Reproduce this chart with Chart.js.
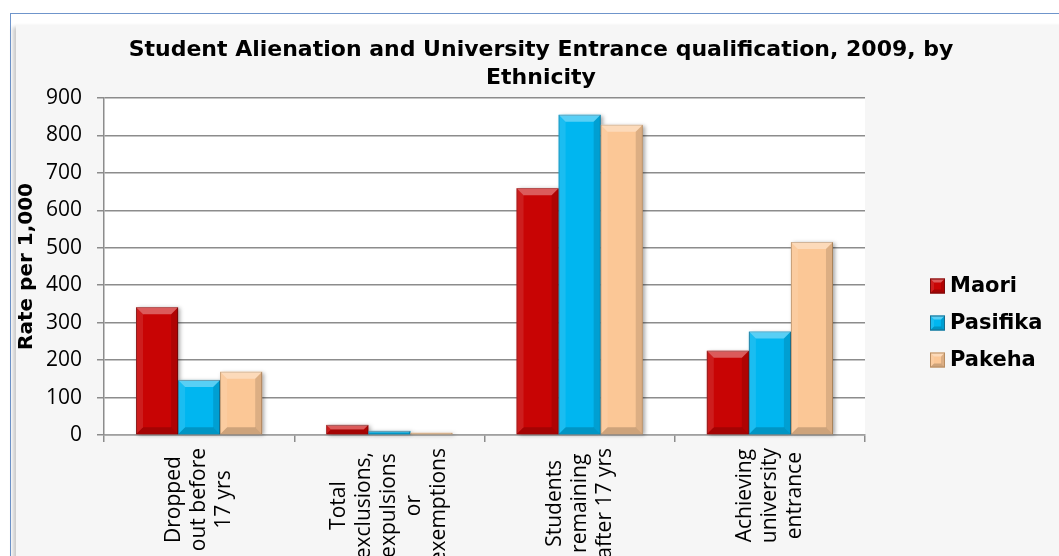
<!DOCTYPE html>
<html>
<head>
<meta charset="utf-8">
<script src="https://cdn.jsdelivr.net/npm/chart.js@4.4.1/dist/chart.umd.min.js"></script>
<style>
  html, body { margin: 0; padding: 0; background: #fff; overflow: hidden; width: 1059px; height: 556px; }
  #frame { position: absolute; left: 10px; top: 13px; width: 1100px; height: 600px; border: 1.5px solid #6f95cb; }
  #panel { position: absolute; left: 16px; top: 25px; width: 1066px; height: 600px; background: #f6f6f6; box-shadow: -3px 2px 4px rgba(0,0,0,0.22); }
  #chart { position: absolute; left: 0; top: 0; }
</style>
</head>
<body>
<div id="frame"></div>
<div id="panel"></div>
<canvas id="chart" width="1082" height="556"></canvas>
<script>
// categories, each split into the lines shown under the axis
const categories = [
    ['Dropped', 'out before', '17 yrs'],
    ['Total', 'exclusions,', 'expulsions', 'or', 'exemptions'],
    ['Students', 'remaining', 'after 17 yrs'],
    ['Achieving', 'university', 'entrance']
];
const seriesNames = ['Maori', 'Pasifika', 'Pakeha'];
const maori = [341, 27, 659, 225];
const pasifika = [147, 11, 855, 276];
const pakeha = [169, 6, 828, 515];
const yTicks = [0, 100, 200, 300, 400, 500, 600, 700, 800, 900];

const fills = ['#c80404', '#00b6f0', '#fbc796'];
const edges = ['#7a0a0a', '#1b6d8e', '#b88d62'];

function quad(ctx, pts, color) {
    ctx.beginPath();
    ctx.moveTo(pts[0][0], pts[0][1]);
    for (let i = 1; i < pts.length; i++) ctx.lineTo(pts[i][0], pts[i][1]);
    ctx.closePath();
    ctx.fillStyle = color;
    ctx.fill();
}

// light top / dark bottom facets to give the bars a raised look
function bevel(ctx, l, t, r, b, s) {
    s = Math.min(s, (b - t) / 2, (r - l) / 2);
    if (s <= 0) return;
    quad(ctx, [[l, t], [r, t], [r - s, t + s], [l + s, t + s]], 'rgba(255,255,255,0.35)');
    quad(ctx, [[l, t], [l + s, t + s], [l + s, b - s], [l, b]], 'rgba(255,255,255,0.10)');
    quad(ctx, [[r, t], [r, b], [r - s, b - s], [r - s, t + s]], 'rgba(0,0,0,0.12)');
    quad(ctx, [[l, b], [l + s, b - s], [r - s, b - s], [r, b]], 'rgba(0,0,0,0.18)');
}

const barLook = {
    id: 'barLook',
    beforeDraw(chart) {
        const { ctx, chartArea: a } = chart;
        ctx.save();
        ctx.fillStyle = '#ffffff';
        ctx.fillRect(a.left, a.top, a.right - a.left, a.bottom - a.top);
        ctx.restore();
    },
    beforeDatasetsDraw(chart) {
        const ctx = chart.ctx;
        ctx.save();
        chart.data.datasets.forEach((ds, i) => {
            chart.getDatasetMeta(i).data.forEach(bar => {
                const p = bar.getProps(['x', 'y', 'base', 'width'], true);
                ctx.shadowColor = 'rgba(0,0,0,0.35)';
                ctx.shadowBlur = 4;
                ctx.shadowOffsetX = 2;
                ctx.shadowOffsetY = 1;
                ctx.fillStyle = fills[i];
                ctx.fillRect(p.x - p.width / 2, p.y, p.width, p.base - p.y);
            });
        });
        ctx.restore();
    },
    afterDatasetsDraw(chart) {
        const ctx = chart.ctx;
        ctx.save();
        chart.data.datasets.forEach((ds, i) => {
            chart.getDatasetMeta(i).data.forEach(bar => {
                const p = bar.getProps(['x', 'y', 'base', 'width'], true);
                bevel(ctx, p.x - p.width / 2, p.y, p.x + p.width / 2, p.base, 7);
            });
        });
        ctx.restore();
    },
    afterDraw(chart) {
        const ctx = chart.ctx;
        const xScale = chart.scales.x;
        ctx.save();
        // rotated, centred category labels
        ctx.font = '21px "Open Sans"';
        ctx.fillStyle = '#000';
        ctx.textAlign = 'center';
        ctx.textBaseline = 'middle';
        const top = xScale.top + 13;
        categories.forEach((lines, i) => {
            const cx = xScale.getPixelForValue(i);
            const maxW = Math.max(...lines.map(s => ctx.measureText(s).width));
            const cy = top + maxW / 2;
            lines.forEach((s, j) => {
                ctx.save();
                ctx.translate(cx + (j - (lines.length - 1) / 2) * 25, cy);
                ctx.rotate(-Math.PI / 2);
                ctx.fillText(s, 0, 0);
                ctx.restore();
            });
        });
        // legend on the right
        ctx.font = 'bold 21px "DejaVu Sans"';
        ctx.textAlign = 'left';
        chart.data.datasets.forEach((ds, i) => {
            const y = 286 + i * 37;
            ctx.fillStyle = fills[i];
            ctx.fillRect(930, y - 7.5, 15, 15);
            bevel(ctx, 930, y - 7.5, 945, y + 7.5, 4);
            ctx.strokeStyle = edges[i];
            ctx.lineWidth = 1;
            ctx.strokeRect(930.5, y - 7, 14, 14);
            ctx.fillStyle = '#000';
            ctx.fillText(ds.label, 950, y + 1);
        });
        ctx.restore();
    }
};

new Chart(document.getElementById('chart'), {
    type: 'bar',
    data: {
        labels: categories.map(c => c.join(' ')),
        datasets: [maori, pasifika, pakeha].map((vals, i) => ({
            label: seriesNames[i],
            data: vals,
            backgroundColor: fills[i],
            borderColor: edges[i],
            borderWidth: 1,
            categoryPercentage: 0.663,
            barPercentage: 1
        }))
    },
    options: {
        responsive: false,
        animation: false,
        layout: { padding: 0 },
        plugins: {
            legend: { display: false },
            tooltip: { enabled: false },
            title: {
                display: true,
                text: ['Student Alienation and University Entrance qualification, 2009, by', 'Ethnicity'],
                color: '#000',
                font: { family: '"DejaVu Sans"', size: 22, weight: 'bold', lineHeight: 1.27 },
                padding: { top: 36, bottom: 6 }
            }
        },
        scales: {
            x: {
                grid: { display: true, drawOnChartArea: false, drawTicks: true, tickLength: 7, color: '#8c8c8c', lineWidth: 1.5 },
                border: { color: '#a0a0a0', width: 1.5 },
                ticks: { display: false },
                afterFit(scale) { scale.height = 121; }
            },
            y: {
                min: 0,
                max: 900,
                afterBuildTicks(scale) { scale.ticks = yTicks.map(v => ({ value: v })); },
                grid: { color: '#8c8c8c', lineWidth: 1.5, tickLength: 7 },
                border: { color: '#8c8c8c', width: 1.5 },
                ticks: { color: '#000', padding: 15, font: { family: '"Open Sans"', size: 21 } },
                title: {
                    display: true,
                    text: 'Rate per 1,000',
                    color: '#000',
                    font: { family: '"DejaVu Sans"', size: 20, weight: 'bold' },
                    padding: { top: 15, bottom: 0 }
                },
                afterFit(scale) { scale.width = 104; }
            },
            // empty right-hand strip that leaves room for the legend
            legendSpace: {
                type: 'linear',
                position: 'right',
                grid: { display: false, drawTicks: false },
                border: { display: false },
                ticks: { display: false },
                afterFit(scale) { scale.width = 217; }
            }
        }
    },
    plugins: [barLook]
});
</script>
</body>
</html>
